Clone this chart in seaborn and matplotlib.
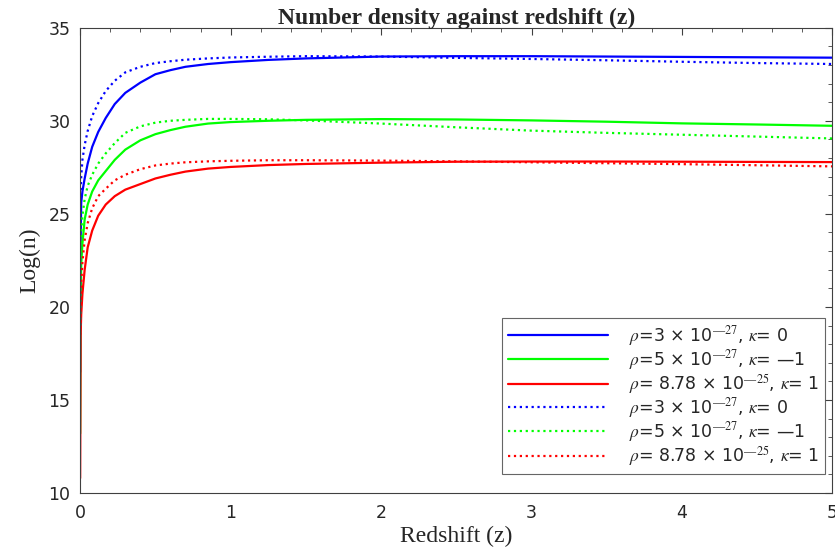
import numpy as np
import pandas as pd
import seaborn as sns
import matplotlib
matplotlib.use('Agg')
import matplotlib.pyplot as plt
from matplotlib.ticker import MultipleLocator

# redshift grid (dense near z=0 where curves bend)
z = [0, 0.003, 0.007, 0.015, 0.03, 0.05, 0.08, 0.12, 0.17, 0.23, 0.3, 0.4, 0.5,
     0.6, 0.7, 0.85, 1.0, 1.25, 1.5, 2.0, 2.5, 3.0, 3.5, 4.0, 4.5, 5.0]

# solid curves
blue_solid = [16.5, 23.5, 25.6, 26.2, 26.9, 27.7, 28.6, 29.4, 30.15, 30.9, 31.5, 32.05, 32.5,
              32.72, 32.9, 33.05, 33.15, 33.27, 33.35, 33.45, 33.47, 33.47, 33.45, 33.43, 33.41, 33.39]
green_solid = [13.2, 20.5, 22.3, 23.4, 24.7, 25.5, 26.2, 26.8, 27.3, 27.9, 28.45, 28.95, 29.28,
               29.5, 29.68, 29.85, 29.93, 30.0, 30.05, 30.09, 30.07, 30.02, 29.95, 29.86, 29.8, 29.73]
red_solid = [10.8, 18.5, 19.6, 20.7, 22.0, 23.2, 24.1, 24.9, 25.5, 25.95, 26.3, 26.6, 26.9,
             27.1, 27.27, 27.43, 27.52, 27.62, 27.68, 27.75, 27.8, 27.81, 27.81, 27.8, 27.79, 27.78]

# dotted curves
blue_dotted = [19.0, 26.0, 27.0, 27.9, 28.7, 29.45, 30.25, 30.95, 31.6, 32.15, 32.6, 32.9, 33.1,
               33.2, 33.28, 33.35, 33.4, 33.44, 33.47, 33.45, 33.38, 33.32, 33.25, 33.17, 33.1, 33.05]
green_dotted = [19.0, 23.0, 24.0, 24.9, 25.8, 26.5, 27.1, 27.7, 28.25, 28.8, 29.35, 29.7, 29.9,
                30.0, 30.05, 30.1, 30.1, 30.08, 30.02, 29.85, 29.65, 29.47, 29.35, 29.25, 29.15, 29.05]
red_dotted = [18.5, 20.5, 21.3, 22.4, 23.6, 24.5, 25.3, 25.95, 26.35, 26.8, 27.1, 27.4, 27.6,
              27.7, 27.77, 27.82, 27.85, 27.88, 27.88, 27.86, 27.82, 27.77, 27.72, 27.67, 27.61, 27.55]

labels = [r'$\rho$=3 × 10$^{—27}$, $\kappa$= 0',
          r'$\rho$=5 × 10$^{—27}$, $\kappa$= —1',
          r'$\rho$= 8.78 × 10$^{—25}$, $\kappa$= 1']

sns.set_style('white')
plt.rcParams['font.family'] = ['DejaVu Sans']
plt.rcParams['mathtext.fontset'] = 'stix'

fig = plt.figure(figsize=(8.35, 5.54), dpi=100)
ax = fig.add_axes([0.096, 0.110, 0.901, 0.840])

series = [(blue_solid, '#0000ff', '-', labels[0]),
          (green_solid, '#00ff00', '-', labels[1]),
          (red_solid, '#ff0000', '-', labels[2]),
          (blue_dotted, '#0000ff', ':', labels[0]),
          (green_dotted, '#00ff00', ':', labels[1]),
          (red_dotted, '#ff0000', ':', labels[2])]

for vals, col, ls, lab in series:
    d = pd.DataFrame({'z': z, 'n': vals})
    sns.lineplot(data=d, x='z', y='n', color=col, linestyle=ls, linewidth=1.6,
                 label=lab, ax=ax, sort=False)

ax.set_xlim(0, 5)
ax.set_ylim(10, 35)
ax.xaxis.set_major_locator(MultipleLocator(1))
ax.xaxis.set_minor_locator(MultipleLocator(0.2))
ax.yaxis.set_major_locator(MultipleLocator(5))
ax.yaxis.set_minor_locator(MultipleLocator(1))
ax.tick_params(which='both', direction='in', top=True, right=True, colors='#404040',
               labelcolor='#262626', labelsize=12.5)
ax.tick_params(axis='x', which='major', pad=8)
ax.tick_params(axis='y', which='major', pad=7)
ax.tick_params(which='major', length=5, width=0.8)
ax.tick_params(which='minor', length=3, width=0.6)
for s in ax.spines.values():
    s.set_color('#404040')
    s.set_linewidth(0.8)

ax.set_title('Number density against redshift (z)', fontsize=17, fontweight='bold',
             family='Liberation Serif', pad=3)
ax.set_xlabel('Redshift (z)', fontsize=17, family='Liberation Serif', labelpad=3)
ax.set_ylabel('Log(n)', fontsize=17, family='Liberation Serif', labelpad=6)

leg = ax.legend(loc='lower right', fontsize=12.5, handlelength=5.8, frameon=True,
                fancybox=False, edgecolor='#404040', borderpad=0.35, labelspacing=0.0,
                handletextpad=1.2, borderaxespad=0, bbox_to_anchor=(0.9907, 0.041))
leg.get_frame().set_linewidth(0.8)

fig.savefig('out.png', dpi=100)
